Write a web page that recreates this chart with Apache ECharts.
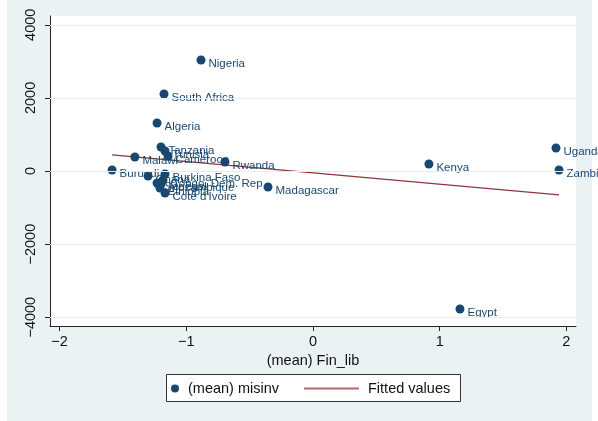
<!DOCTYPE html>
<html>
<head>
<meta charset="utf-8">
<script src="https://cdn.jsdelivr.net/npm/echarts@6/dist/echarts.min.js"></script>
<style>
  html, body { margin: 0; padding: 0; background: #fff; }
  #wrap {
    position: relative; width: 598px; height: 421px;
    background: linear-gradient(to right, #fff 7px, #eaf2f3 7px, #eaf2f3 592px, #fff 592px);
  }
  #chart { position: absolute; left: 0; top: 0; width: 598px; height: 421px; }
</style>
</head>
<body>
<div id="wrap"><div id="chart"></div></div>
<script>
// Country means: financial liberalisation index vs. misinvoicing
const countries = [
  'Nigeria', 'South Africa', 'Algeria', 'Tanzania', 'Tunisia', 'Cameroon',
  'Malawi', 'Rwanda', 'Burundi', 'Kenya', 'Uganda', 'Zambia', 'Egypt',
  'Madagascar', 'Burkina Faso', 'Ghana', 'Congo, Dem. Rep', 'Senegal',
  'Mozambique', 'Ethiopia', "Cote d'Ivoire"
];
const finLib = [
  -0.884, -1.176, -1.231, -1.200, -1.168, -1.144,
  -1.406, -0.695, -1.586, 0.915, 1.918, 1.942, 1.160,
  -0.355, -1.168, -1.302, -1.184, -1.231,
  -1.200, -1.208, -1.168
];
const misinv = [
  3036, 2106, 1313, 656, 547, 410,
  383, 246, 27, 191, 629, 27, -3775,
  -438, -82, -137, -246, -328,
  -356, -465, -602
];

// Linear fit, drawn between the smallest and largest Fin_lib
const fitX = [-1.586, 1.942];
const fitY = [440, -655];

// Axis ticks
const xTicks = [-2, -1, 0, 1, 2];
const yTicks = [-4000, -2000, 0, 2000, 4000];

const NAVY = '#1a476f';
const MAROON = '#90353b';
const FONT = '"Liberation Sans", Arial, sans-serif';
const minus = v => String(v).replace('-', '\u2212');

const chart = echarts.init(document.getElementById('chart'), null, { renderer: 'canvas' });

chart.setOption({
  backgroundColor: 'transparent',
  animation: false,
  textStyle: { fontFamily: FONT },
  grid: {
    show: true, backgroundColor: '#fff', borderWidth: 0,
    left: 50, top: 16, width: 526, height: 310
  },
  xAxis: {
    type: 'value', min: -2.076, max: 2.076,
    axisLine: { show: true, onZero: false, lineStyle: { color: '#222', width: 1 } },
    axisTick: { show: true, length: 5, customValues: xTicks, lineStyle: { color: '#222' } },
    axisLabel: { customValues: xTicks, formatter: minus, fontSize: 14.5, color: '#111', margin: 8 },
    splitLine: { show: false },
    name: '(mean) Fin_lib', nameLocation: 'middle', nameGap: 25,
    nameTextStyle: { fontSize: 14.5, color: '#111' }
  },
  yAxis: {
    type: 'value', min: -4240, max: 4240,
    axisLine: { show: true, onZero: false, lineStyle: { color: '#222', width: 1 } },
    axisTick: { show: true, length: 5, customValues: yTicks, lineStyle: { color: '#222' } },
    axisLabel: { customValues: yTicks, formatter: minus, rotate: 90, fontSize: 14.5, color: '#111', margin: 12 },
    splitLine: { show: false }
  },
  legend: [
    {
      data: [{ name: '(mean) misinv', icon: 'circle' }],
      left: 171, top: 381, padding: 0,
      itemWidth: 8, itemHeight: 8,
      textStyle: { fontSize: 14.5, color: '#111', padding: [0, 0, 0, 4] },
      selectedMode: false
    },
    {
      data: [{ name: 'Fitted values', icon: 'rect', itemStyle: { color: '#b46a70' } }],
      left: 304, top: 381, padding: 0,
      itemWidth: 55, itemHeight: 2,
      textStyle: { fontSize: 14.5, color: '#111', padding: [0, 0, 0, 4] },
      selectedMode: false
    }
  ],
  graphic: [
    {
      type: 'rect', z: 1,
      shape: { x: 166.5, y: 374.5, width: 294, height: 27 },
      style: { fill: '#fff', stroke: '#333', lineWidth: 1 }
    }
  ],
  series: [
    {
      // horizontal grid lines at the y ticks
      type: 'line', data: [], z: 1, silent: true,
      markLine: {
        silent: true, symbol: 'none', label: { show: false },
        lineStyle: { color: '#e4edef', width: 1, type: 'solid' },
        data: yTicks.map(v => ({ yAxis: v }))
      }
    },
    {
      name: 'Fitted values', type: 'line', z: 2,
      data: fitX.map((x, i) => [x, fitY[i]]),
      symbol: 'none', showSymbol: false,
      lineStyle: { color: MAROON, width: 1.3 },
      itemStyle: { color: MAROON }
    },
    {
      name: '(mean) misinv', type: 'scatter', z: 3,
      symbolSize: 9,
      itemStyle: { color: NAVY, opacity: 1 },
      data: finLib.map((x, i) => ({ value: [x, misinv[i]], name: countries[i] })),
      label: {
        show: true, position: [12, 8], align: 'left', verticalAlign: 'middle',
        formatter: '{b}', fontSize: 11.5, color: NAVY
      },
      labelLayout: { hideOverlap: false }
    }
  ]
});
</script>
</body>
</html>
